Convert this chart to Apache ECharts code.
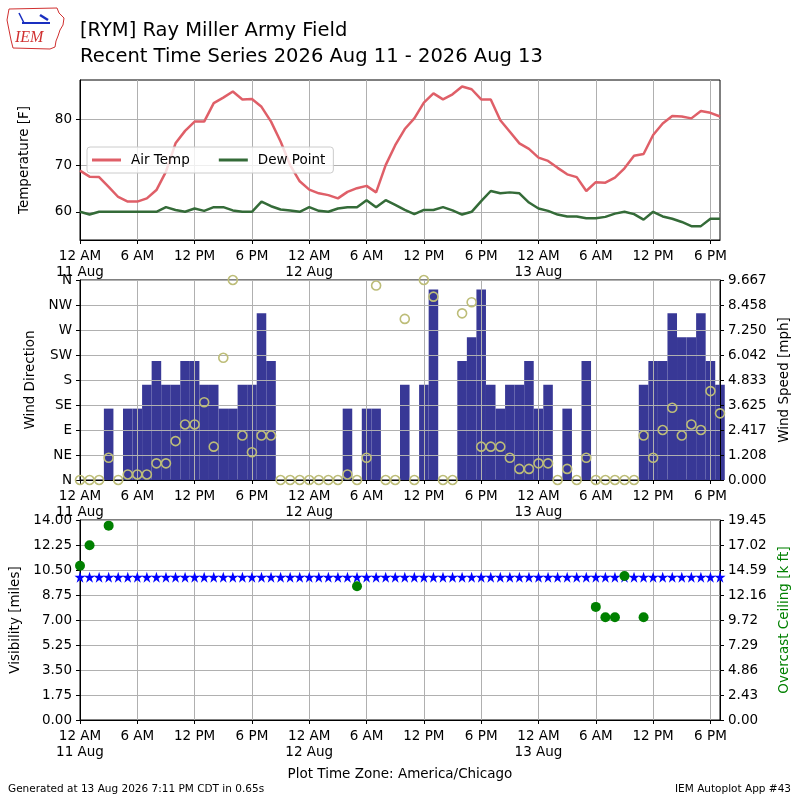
<!DOCTYPE html>
<html>
<head>
<meta charset="utf-8">
<script src="https://cdn.jsdelivr.net/npm/echarts@6/dist/echarts.min.js"></script>
<style>
  html, body { margin: 0; padding: 0; background: #fff; }
  #chart { width: 800px; height: 800px; }
</style>
</head>
<body>
<div id="chart"></div>
<script>
// one observation per hour, hours counted from 2026-08-11 12 AM (CDT)
const obsHours = Array.from({ length: 68 }, (_, i) => i);

const airTemp = [68.9, 67.6, 67.5, 65.4, 63.2, 62.2, 62.2, 62.9, 64.7, 68.7,
  74.8, 77.5, 79.5, 79.5, 83.5, 84.7, 86.0, 84.3, 84.4, 82.7,
  79.5, 75.2, 70.1, 66.6, 64.8, 64.0, 63.6, 62.9, 64.3, 65.1,
  65.6, 64.2, 70.1, 74.4, 77.9, 80.2, 83.6, 85.6, 84.3, 85.4,
  87.1, 86.5, 84.3, 84.3, 79.8, 77.3, 74.8, 73.6, 71.7, 71.0,
  69.5, 68.1, 67.5, 64.5, 66.4, 66.3, 67.4, 69.4, 72.1, 72.5,
  76.6, 79.1, 80.7, 80.6, 80.2, 81.8, 81.4, 80.6];

const dewPoint = [60.0, 59.4, 60.0, 60.0, 60.0, 60.0, 60.0, 60.0, 60.0, 61.0,
  60.4, 60.0, 60.7, 60.2, 61.0, 61.0, 60.3, 60.0, 60.0, 62.2,
  61.2, 60.5, 60.3, 60.0, 61.0, 60.2, 60.0, 60.7, 61.0, 61.0,
  62.5, 61.0, 62.5, 61.5, 60.4, 59.5, 60.4, 60.4, 61.0, 60.3,
  59.4, 60.0, 62.3, 64.5, 64.0, 64.2, 64.0, 62.0, 60.7, 60.2,
  59.4, 59.0, 59.0, 58.6, 58.6, 58.9, 59.6, 60.0, 59.5, 58.3,
  60.0, 59.0, 58.5, 57.8, 56.9, 56.9, 58.5, 58.5];

// wind speed [mph]
const windSpeed = [0, 0, 0, 3.45, 0, 3.45, 3.45, 4.60, 5.75, 4.60,
  4.60, 5.75, 5.75, 4.60, 4.60, 3.45, 3.45, 4.60, 4.60, 8.06,
  5.75, 0, 0, 0, 0, 0, 0, 0, 3.45, 0,
  3.45, 3.45, 0, 0, 4.60, 0, 4.60, 9.21, 0, 0,
  5.75, 6.90, 9.21, 4.60, 3.45, 4.60, 4.60, 5.75, 3.45, 4.60,
  0, 3.45, 0, 5.75, 0, 0, 0, 0, 0, 4.60,
  5.75, 5.75, 8.06, 6.90, 6.90, 8.06, 5.75, 4.60];

// wind direction [deg]
const windDir = [0, 0, 0, 40, 0, 10, 10, 10, 30, 30,
  70, 100, 100, 140, 60, 220, 360, 80, 50, 80,
  80, 0, 0, 0, 0, 0, 0, 0, 10, 0,
  40, 350, 0, 0, 290, 0, 360, 330, 0, 0,
  300, 320, 60, 60, 60, 40, 20, 20, 30, 30,
  0, 20, 0, 40, 0, 0, 0, 0, 0, 80,
  40, 90, 130, 80, 100, 90, 160, 120];

// visibility [miles]
const visibility = [10, 10, 10, 10, 10, 10, 10, 10, 10, 10,
  10, 10, 10, 10, 10, 10, 10, 10, 10, 10,
  10, 10, 10, 10, 10, 10, 10, 10, 10, 10,
  10, 10, 10, 10, 10, 10, 10, 10, 10, 10,
  10, 10, 10, 10, 10, 10, 10, 10, 10, 10,
  10, 10, 10, 10, 10, 10, 10, 10, 10, 10,
  10, 10, 10, 10, 10, 10, 10, 10];

// overcast ceiling [k ft]
const ceilingHours = [0, 1, 3, 29, 54, 55, 56, 57, 59];
const ceilingKft = [15.0, 17.0, 18.9, 13.0, 11.0, 10.0, 10.0, 14.0, 10.0];

const xTickHours = [0, 6, 12, 18, 24, 30, 36, 42, 48, 54, 60, 66];
const dayLabels = ['11 Aug', '12 Aug', '13 Aug'];
const tempTicks = [60, 70, 80];
const dirLabels = ['N', 'NE', 'E', 'SE', 'S', 'SW', 'W', 'NW', 'N'];

const FONT = 'DejaVu Sans';
const GRIDC = '#b0b0b0';
const speedMax = 9.6666;
const ceilMax = 19.449;

function timeLabel(h) {
  const hod = h % 24;
  if (hod === 0) return '12 AM\n' + dayLabels[Math.floor(h / 24)];
  if (hod === 6) return '6 AM';
  if (hod === 12) return '12 PM';
  if (hod === 18) return '6 PM';
  return '';
}

function xAxisFor(gridIndex, z) {
  return {
    type: 'value', gridIndex: gridIndex, min: 0, max: 67, z: z || 0,
    axisLine: { show: true, onZero: false, lineStyle: { color: '#000' } },
    axisTick: { show: true, length: 4, customValues: xTickHours, lineStyle: { color: '#000' } },
    axisLabel: {
      customValues: xTickHours, margin: 8, color: '#000', fontFamily: FONT,
      fontSize: 13.5, lineHeight: 16.5, formatter: timeLabel
    },
    splitLine: { show: true, lineStyle: { color: GRIDC, width: 1 } }
  };
}

function yAxisBase(extra) {
  return Object.assign({
    type: 'value',
    axisLine: { show: true, lineStyle: { color: '#000' } },
    axisTick: { show: true, length: 4, lineStyle: { color: '#000' } },
    axisLabel: { margin: 8, color: '#000', fontFamily: FONT, fontSize: 13.5 },
    splitLine: { show: true, lineStyle: { color: GRIDC, width: 1 } },
    nameLocation: 'middle', nameRotate: 90,
    nameTextStyle: { color: '#000', fontFamily: FONT, fontSize: 13.5 }
  }, extra);
}

const chart = echarts.init(document.getElementById('chart'), null, { renderer: 'canvas' });

const option = {
  animation: false,
  backgroundColor: '#fff',
  title: [
    {
      text: '[RYM] Ray Miller Army Field\nRecent Time Series 2026 Aug 11 - 2026 Aug 13',
      left: 80, top: 18, padding: 0,
      textStyle: { fontFamily: FONT, fontSize: 19.5, fontWeight: 'normal', lineHeight: 26, color: '#000' }
    },
    {
      text: 'Plot Time Zone: America/Chicago', left: 'center', top: 767, padding: 0,
      textStyle: { fontFamily: FONT, fontSize: 13.5, fontWeight: 'normal', color: '#000' }
    },
    {
      text: 'Generated at 13 Aug 2026 7:11 PM CDT in 0.65s', left: 8, top: 784, padding: 0,
      textStyle: { fontFamily: FONT, fontSize: 10.5, fontWeight: 'normal', color: '#000' }
    },
    {
      text: 'IEM Autoplot App #43', right: 9, top: 784, padding: 0,
      textStyle: { fontFamily: FONT, fontSize: 10.5, fontWeight: 'normal', color: '#000' }
    }
  ],
  graphic: [
    {
      type: 'polyline',
      shape: { points: [[9, 9], [57, 8], [59, 13], [64, 18], [63, 25], [60, 30], [58, 36], [56, 41], [55, 47], [50, 49], [13, 48], [11, 40], [9, 30], [7, 20], [9, 9]] },
      style: { stroke: '#d03030', fill: 'none', lineWidth: 1 }
    },
    { type: 'line', shape: { x1: 22, y1: 23, x2: 50, y2: 23 }, style: { stroke: '#1a2fc0', lineWidth: 2 } },
    { type: 'line', shape: { x1: 19, y1: 13, x2: 24, y2: 23 }, style: { stroke: '#1a2fc0', lineWidth: 1.5 } },
    { type: 'line', shape: { x1: 40, y1: 15, x2: 48, y2: 20 }, style: { stroke: '#1a2fc0', lineWidth: 2.5 } },
    {
      type: 'text', left: 15, top: 30,
      style: { text: 'IEM', font: 'italic 16px "Liberation Serif"', fill: '#d03030' }
    }
  ],
  legend: {
    data: [{ name: 'Air Temp', icon: 'rect' }, { name: 'Dew Point', icon: 'rect' }],
    left: 87, top: 147,
    itemWidth: 29, itemHeight: 3, itemGap: 29,
    padding: [5, 8, 5, 5],
    backgroundColor: 'rgba(255,255,255,0.8)',
    borderColor: '#cccccc', borderWidth: 1, borderRadius: 3,
    textStyle: { fontFamily: FONT, fontSize: 13.5, color: '#000', padding: [0, 0, 0, 5], lineHeight: 16 }
  },
  grid: [
    { left: 80, right: 80, top: 80, height: 160, show: true, borderColor: '#000', borderWidth: 1 },
    { left: 80, right: 80, top: 280, height: 200, show: true, borderColor: '#000', borderWidth: 1 },
    { left: 80, right: 80, top: 520, height: 200, show: true, borderColor: '#000', borderWidth: 1 }
  ],
  xAxis: [xAxisFor(0), xAxisFor(1, 3), xAxisFor(2)],
  yAxis: [
    yAxisBase({
      gridIndex: 0, min: 53.9, max: 88.5,
      axisTick: { show: true, length: 4, customValues: tempTicks, lineStyle: { color: '#000' } },
      axisLabel: { customValues: tempTicks, margin: 8, color: '#000', fontFamily: FONT, fontSize: 13.5 },
      name: 'Temperature [F]', nameGap: 49
    }),
    yAxisBase({
      gridIndex: 1, min: 0, max: 360, interval: 45, z: 3,
      axisLabel: {
        margin: 8, color: '#000', fontFamily: FONT, fontSize: 13.5,
        formatter: v => dirLabels[Math.round(v / 45)]
      },
      name: 'Wind Direction', nameGap: 37
    }),
    yAxisBase({
      gridIndex: 1, position: 'right', min: 0, max: speedMax, interval: speedMax / 8, z: 3,
      axisLabel: { margin: 8, color: '#000', fontFamily: FONT, fontSize: 13.5, formatter: v => v.toFixed(3) },
      splitLine: { show: false },
      name: 'Wind Speed [mph]', nameGap: 57
    }),
    yAxisBase({
      gridIndex: 2, min: 0, max: 14, interval: 1.75,
      axisLabel: { margin: 8, color: '#000', fontFamily: FONT, fontSize: 13.5, formatter: v => v.toFixed(2) },
      name: 'Visibility [miles]', nameGap: 53
    }),
    yAxisBase({
      gridIndex: 2, position: 'right', min: 0, max: ceilMax, interval: ceilMax / 8,
      axisLabel: { margin: 8, color: '#000', fontFamily: FONT, fontSize: 13.5, formatter: v => v.toFixed(2) },
      splitLine: { show: false },
      name: 'Overcast Ceiling [k ft]', nameGap: 53,
      nameTextStyle: { color: '#008000', fontFamily: FONT, fontSize: 13.5 }
    })
  ],
  series: [
    {
      name: 'Air Temp', type: 'line', xAxisIndex: 0, yAxisIndex: 0, symbol: 'none',
      data: obsHours.map((h, i) => [h, airTemp[i]]),
      lineStyle: { color: '#df5f68', width: 2.5 }, itemStyle: { color: '#df5f68' }
    },
    {
      name: 'Dew Point', type: 'line', xAxisIndex: 0, yAxisIndex: 0, symbol: 'none',
      data: obsHours.map((h, i) => [h, dewPoint[i]]),
      lineStyle: { color: '#346b38', width: 2.5 }, itemStyle: { color: '#346b38' }
    },
    {
      name: 'Wind Speed', type: 'bar', xAxisIndex: 1, yAxisIndex: 2, barWidth: 9.55,
      data: obsHours.map((h, i) => [h, windSpeed[i]]),
      itemStyle: { color: '#383896' }, z: 2
    },
    {
      name: 'Wind Direction', type: 'scatter', xAxisIndex: 1, yAxisIndex: 1,
      symbol: 'circle', symbolSize: 9,
      data: obsHours.map((h, i) => [h, windDir[i]]),
      itemStyle: { color: 'rgba(0,0,0,0)', borderColor: '#bdbd78', borderWidth: 1.6, opacity: 1 }, z: 5
    },
    {
      name: 'Visibility', type: 'scatter', xAxisIndex: 2, yAxisIndex: 3,
      symbol: 'path://M50,0 L61.2,34.5 L97.6,34.5 L68.2,55.9 L79.4,90.5 L50,69.1 L20.6,90.5 L31.8,55.9 L2.4,34.5 L38.8,34.5 Z',
      symbolSize: 11,
      data: obsHours.map((h, i) => [h, visibility[i]]),
      itemStyle: { color: '#0000ff', opacity: 1 }, z: 3
    },
    {
      name: 'Ceiling', type: 'scatter', xAxisIndex: 2, yAxisIndex: 4,
      symbol: 'circle', symbolSize: 10,
      data: ceilingHours.map((h, i) => [h, ceilingKft[i]]),
      itemStyle: { color: '#008000', opacity: 1 }, z: 4
    }
  ]
};

chart.setOption(option);
</script>
</body>
</html>
